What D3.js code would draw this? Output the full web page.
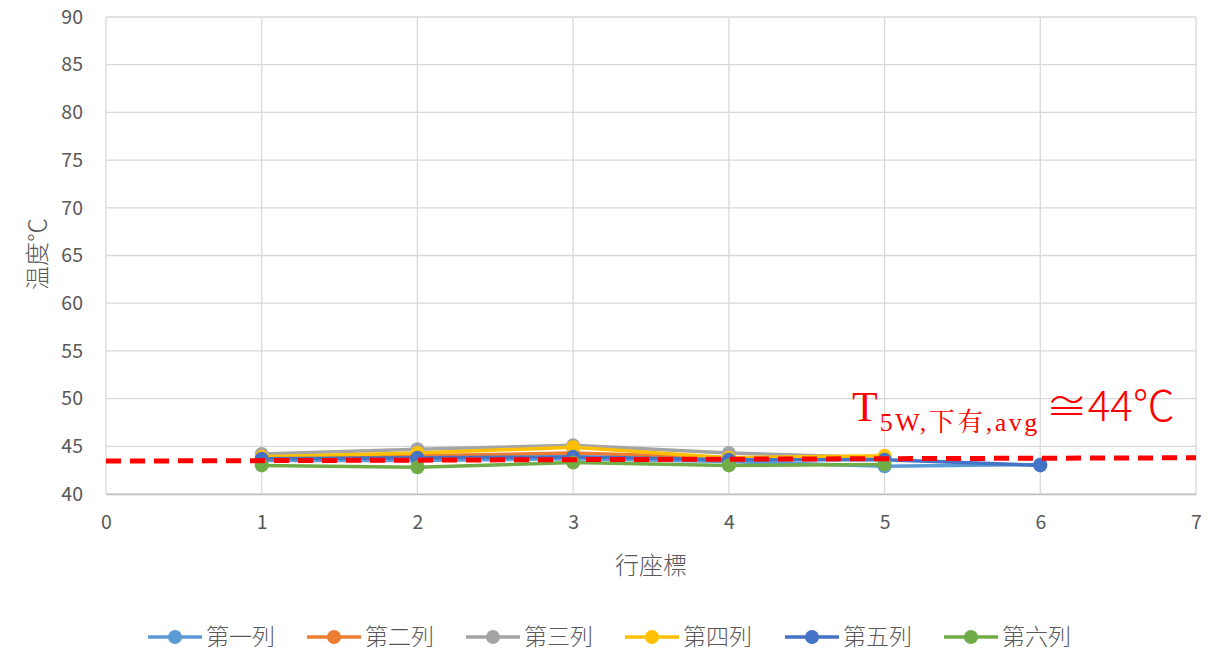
<!DOCTYPE html>
<html>
<head>
<meta charset="utf-8">
<script src="https://cdn.jsdelivr.net/npm/d3@7"></script>
<style>
  html, body { margin: 0; padding: 0; background: #fff; }
  svg { display: block; }
</style>
</head>
<body>
<svg id="chart" width="1212" height="651"></svg>
<script>
// Row coordinates and per-column temperature readings
const xValues = [1, 2, 3, 4, 5, 6];
const seriesNames = ["第一列", "第二列", "第三列", "第四列", "第五列", "第六列"];
const seriesColors = ["#5B9BD5", "#ED7D31", "#A5A5A5", "#FFC000", "#4472C4", "#70AD47"];
const col1 = [43.5, 43.5, 43.7, 43.4, 42.9, 43.1];
const col2 = [43.7, 44.0, 44.3, 43.8, 43.7];
const col3 = [44.2, 44.7, 45.1, 44.3, 43.8];
const col4 = [43.9, 44.3, 44.9, 43.8, 44.0];
const col5 = [43.7, 43.8, 43.9, 43.6, 43.6, 43.0];
const col6 = [43.0, 42.8, 43.3, 43.0, 43.1];
const seriesValues = [col1, col2, col3, col4, col5, col6];
// Average trend line endpoints (x, temperature)
const trendX = [0, 7];
const trendY = [43.45, 43.8];
const xTicks = [0, 1, 2, 3, 4, 5, 6, 7];
const yTicks = [40, 45, 50, 55, 60, 65, 70, 75, 80, 85, 90];

(function () {
const svg = d3.select("#chart");
const mLeft = 106, mRight = 1196, mTop = 17, mBottom = 494;

const x = d3.scaleLinear().domain([0, 7]).range([mLeft, mRight]);
const y = d3.scaleLinear().domain([40, 90]).range([mBottom, mTop]);

const font = "'Noto Sans CJK TC', 'Noto Sans', sans-serif";
const tickColor = "#595959";

// Gridlines
svg.append("g").selectAll("line").data(yTicks).join("line")
  .attr("x1", mLeft).attr("x2", mRight)
  .attr("y1", d => y(d)).attr("y2", d => y(d))
  .attr("stroke", "#d9d9d9").attr("stroke-width", 1.3);
svg.append("g").selectAll("line").data(xTicks).join("line")
  .attr("y1", mTop).attr("y2", mBottom)
  .attr("x1", d => x(d)).attr("x2", d => x(d))
  .attr("stroke", "#d9d9d9").attr("stroke-width", 1.3);

// Axes (labels only; lines come from the grid)
const yAxis = d3.axisLeft(y).tickValues(yTicks).tickSize(0).tickPadding(23);
const gy = svg.append("g").attr("transform", `translate(${mLeft},0)`).call(yAxis);
gy.select(".domain").remove();
gy.selectAll("text").attr("font-family", font).attr("font-size", 19.5).attr("fill", tickColor);

const xAxis = d3.axisBottom(x).tickValues(xTicks).tickSize(0).tickPadding(21).tickFormat(d3.format("d"));
const gx = svg.append("g").attr("transform", `translate(0,${mBottom})`).call(xAxis);
gx.select(".domain").attr("stroke", "#bfbfbf").attr("stroke-width", 1.3);
gx.selectAll("text").attr("font-family", font).attr("font-size", 19.5).attr("fill", tickColor);

// Axis titles
svg.append("text")
  .attr("transform", `translate(46,254) rotate(-90)`)
  .attr("text-anchor", "middle")
  .attr("font-family", font).attr("font-size", 24).attr("font-weight", 300).attr("fill", tickColor)
  .text("温度℃");
svg.append("text")
  .attr("x", (mLeft + mRight) / 2).attr("y", 574)
  .attr("text-anchor", "middle")
  .attr("font-family", font).attr("font-size", 24).attr("font-weight", 300).attr("fill", tickColor)
  .text("行座標");

// Series lines and markers
const line = d3.line().x((d, i) => x(xValues[i])).y(d => y(d));
const plot = svg.append("g");
seriesValues.forEach((vals, s) => {
  plot.append("path")
    .attr("d", line(vals))
    .attr("fill", "none")
    .attr("stroke", seriesColors[s])
    .attr("stroke-width", 3.5)
    .attr("stroke-linejoin", "round");
});
seriesValues.forEach((vals, s) => {
  plot.append("g").selectAll("circle").data(vals).join("circle")
    .attr("cx", (d, i) => x(xValues[i]))
    .attr("cy", d => y(d))
    .attr("r", 7)
    .attr("fill", seriesColors[s]);
});

// Average trend line
svg.append("line")
  .attr("x1", x(trendX[0])).attr("y1", y(trendY[0]))
  .attr("x2", x(trendX[1])).attr("y2", y(trendY[1]))
  .attr("stroke", "#FF0000").attr("stroke-width", 5)
  .attr("stroke-dasharray", "15,9");

// Annotation
const ann = svg.append("text")
  .attr("x", 852).attr("y", 421)
  .attr("fill", "#FF0000")
  .attr("font-family", "'Liberation Serif', 'Noto Serif CJK TC', serif");
ann.append("tspan").attr("font-size", 42).text("T");
ann.append("tspan").attr("font-size", 26).attr("dy", 10).attr("dx", 2)
  .attr("letter-spacing", 2.5).text("5W,下有,avg");
ann.append("tspan").attr("font-size", 42).attr("dy", -10).attr("dx", 6)
  .attr("font-family", "'Noto Sans CJK TC', sans-serif").attr("font-weight", 300).text("≅44℃");

// Legend
const legendX = [148, 307, 466, 625, 785, 944];
const lg = svg.append("g");
seriesNames.forEach((name, i) => {
  const g = lg.append("g").attr("transform", `translate(${legendX[i]},637)`);
  g.append("line").attr("x1", 0).attr("x2", 54).attr("stroke", seriesColors[i]).attr("stroke-width", 3.5);
  g.append("circle").attr("cx", 27).attr("r", 7).attr("fill", seriesColors[i]);
  g.append("text").attr("x", 58).attr("y", 8)
    .attr("font-family", font).attr("font-size", 23).attr("font-weight", 300).attr("fill", tickColor)
    .text(name);
});
})();
</script>
</body>
</html>
